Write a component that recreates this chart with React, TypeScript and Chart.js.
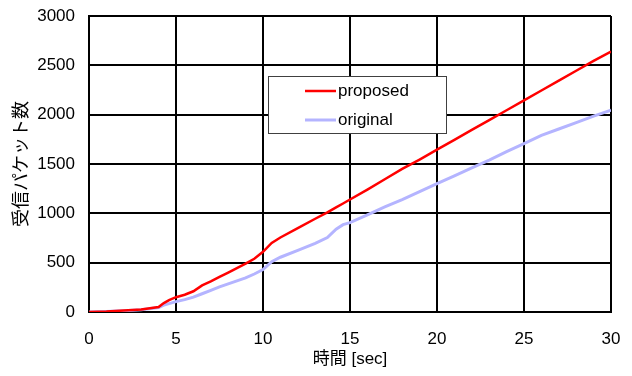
import React, { useEffect, useRef } from 'react';
import { Chart, registerables } from 'chart.js';

Chart.register(...registerables);

// time [sec]
const times = [0, 1, 2, 3, 4, 4.3, 4.6, 5, 5.5, 6, 6.5, 7, 7.5, 8, 8.5, 9, 9.5, 10, 10.5, 11, 12, 13, 13.7, 14.2, 14.6, 15, 16, 17, 18, 19, 20, 21, 22, 23, 24, 25, 26, 27, 28, 29, 30];
// received packets
const proposed = [0, 5, 15, 25, 50, 90, 120, 150, 175, 210, 270, 310, 355, 400, 445, 490, 540, 610, 700, 755, 850, 945, 1010, 1060, 1100, 1140, 1240, 1345, 1450, 1545, 1645, 1745, 1845, 1945, 2045, 2145, 2245, 2345, 2445, 2545, 2640];
const original = [0, 5, 12, 22, 45, 70, 85, 105, 125, 150, 185, 220, 255, 285, 315, 345, 385, 430, 510, 555, 625, 695, 755, 840, 885, 905, 985, 1065, 1140, 1220, 1300, 1380, 1460, 1540, 1625, 1707, 1790, 1855, 1920, 1985, 2045];

const seriesNames = ['proposed', 'original'];
const xTitle = '時間 [sec]';
const yTitle = '受信パケット数';

const FONT = "'Liberation Sans', Arial, 'Noto Sans CJK JP', sans-serif";

const boxLegend = {
  id: 'boxLegend',
  afterDatasetsDraw(chart: any) {
    const { ctx, chartArea: ca } = chart;
    const x0 = ca.left + 179;
    const y0 = ca.top + 60;
    const w = 178;
    const h = 57;
    ctx.save();
    ctx.fillStyle = '#ffffff';
    ctx.fillRect(x0, y0, w, h);
    ctx.strokeStyle = '#404040';
    ctx.lineWidth = 1;
    ctx.strokeRect(x0 + 0.5, y0 + 0.5, w, h);
    chart.data.datasets.forEach((ds: any, i: number) => {
      const y = y0 + 15 + i * 29;
      ctx.strokeStyle = ds.borderColor;
      ctx.lineWidth = ds.borderWidth;
      ctx.beginPath();
      ctx.moveTo(x0 + 37, y);
      ctx.lineTo(x0 + 68, y);
      ctx.stroke();
      ctx.fillStyle = '#000000';
      ctx.font = `17px ${FONT}`;
      ctx.textBaseline = 'middle';
      ctx.textAlign = 'left';
      ctx.fillText(ds.label, x0 + 70, y);
    });
    ctx.restore();
  },
};

const zeroPad = (s: any) => {
  s.paddingTop = 0;
  s.paddingBottom = 0;
  s.paddingLeft = 0;
  s.paddingRight = 0;
};

export default function App() {
  const ref = useRef<HTMLCanvasElement | null>(null);

  useEffect(() => {
    if (!ref.current) return;
    const chart = new Chart(ref.current, {
      type: 'line',
      data: {
        datasets: [
          {
            label: seriesNames[0],
            data: times.map((t, i) => ({ x: t, y: proposed[i] })),
            borderColor: '#ff0000',
            borderWidth: 2.5,
            pointRadius: 0,
            tension: 0,
            fill: false,
          },
          {
            label: seriesNames[1],
            data: times.map((t, i) => ({ x: t, y: original[i] })),
            borderColor: '#b4b4ff',
            borderWidth: 3,
            pointRadius: 0,
            tension: 0,
            fill: false,
          },
        ],
      },
      options: {
        responsive: false,
        animation: false,
        layout: { padding: { left: 0, right: 21, top: 16, bottom: 0 } },
        plugins: {
          legend: { display: false },
          tooltip: { enabled: false },
        },
        scales: {
          x: {
            type: 'linear',
            min: 0,
            max: 30,
            ticks: { stepSize: 5, color: '#000', font: { family: FONT, size: 17 }, padding: 17, maxRotation: 0 },
            grid: { color: '#000', lineWidth: 2, drawTicks: false },
            border: { color: '#000', width: 2 },
            title: { display: true, text: xTitle, color: '#000', font: { family: FONT, size: 17 }, padding: { top: 0, bottom: 6 } },
            afterFit: (s: any) => { s.height = 64; zeroPad(s); },
          },
          y: {
            type: 'linear',
            min: 0,
            max: 3000,
            ticks: {
              stepSize: 500,
              color: '#000',
              font: { family: FONT, size: 17 },
              padding: 14,
              callback: (v: any) => String(v),
            },
            grid: { color: '#000', lineWidth: 2, drawTicks: false },
            border: { color: '#000', width: 2 },
            title: { display: true, text: yTitle, color: '#000', font: { family: FONT, size: 18 }, padding: { top: 11, bottom: 0 } },
            afterFit: (s: any) => { s.width = 89; zeroPad(s); },
          },
        },
      },
      plugins: [boxLegend],
    });
    return () => chart.destroy();
  }, []);

  return (
    <div style={{ position: 'absolute', left: 0, top: 0, width: 632, height: 376, background: '#fff' }}>
      <canvas ref={ref} width={632} height={376} />
    </div>
  );
}
